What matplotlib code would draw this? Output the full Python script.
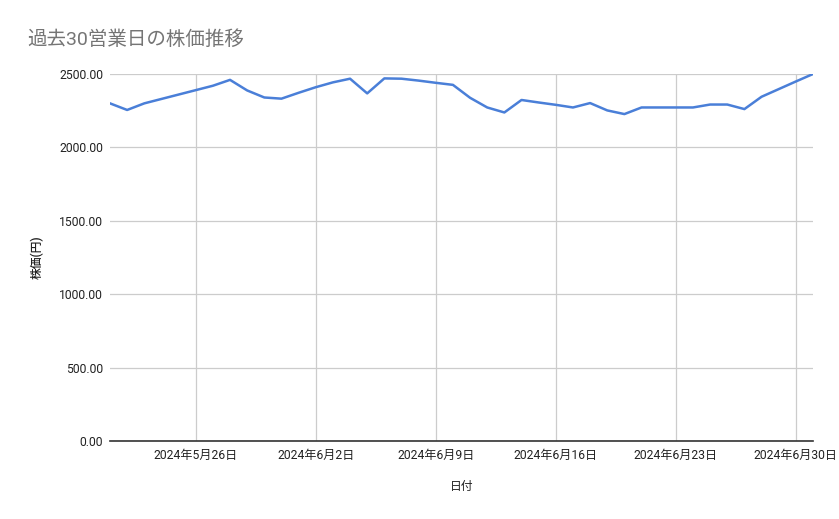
import matplotlib
matplotlib.use("Agg")
import matplotlib.pyplot as plt
import matplotlib.dates as mdates
from matplotlib.ticker import FuncFormatter
import pandas as pd

plt.rcParams['font.family'] = ['Roboto', 'Noto Sans CJK JP', 'DejaVu Sans']

# daily closing prices, 2024-05-21 .. 2024-07-01
dates = pd.date_range("2024-05-21", "2024-07-01", freq="D")
prices = [2300, 2255, 2300, 2330, 2360, 2390, 2420, 2460, 2388, 2340,
          2332, 2372, 2410, 2443, 2468, 2368, 2470, 2468, 2455, 2440,
          2426, 2338, 2272, 2238, 2323, 2306, 2290, 2272, 2302, 2252,
          2227, 2272, 2272, 2272, 2272, 2292, 2292, 2261, 2345, 2397,
          2449, 2500]
tick_dates = pd.to_datetime(["2024-05-26", "2024-06-02", "2024-06-09",
                             "2024-06-16", "2024-06-23", "2024-06-30"])
y_ticks = [0, 500, 1000, 1500, 2000, 2500]

title = "過去30営業日の株価推移"
x_label = "日付"
y_label = "株価(円)"

fig = plt.figure(figsize=(8.39, 5.19), dpi=100)
ax = fig.add_axes([110 / 839, 1 - 441 / 519, 703 / 839, 367 / 519])

ax.plot(dates, prices, color="#4a7fd8", linewidth=1.8, solid_joinstyle="round")

ax.set_xlim(dates[0], dates[-1])
ax.set_ylim(0, 2500)
ax.set_yticks(y_ticks)
ax.yaxis.set_major_formatter(FuncFormatter(lambda v, p: f"{v:.2f}"))
ax.set_xticks(tick_dates)
ax.xaxis.set_major_formatter(FuncFormatter(
    lambda v, p: "{0}年{1}月{2}日".format(*[int(s) for s in mdates.num2date(v).strftime("%Y %m %d").split()])))

ax.grid(True, color="#cccccc", linewidth=0.9)
ax.set_axisbelow(True)
for side in ["top", "right", "left"]:
    ax.spines[side].set_visible(False)
ax.spines["bottom"].set_color("#333333")
ax.spines["bottom"].set_linewidth(1.2)
ax.spines["bottom"].set_zorder(3)
ax.tick_params(length=0, labelsize=8.7, labelcolor="#222222")
ax.tick_params(axis="y", pad=5)
ax.tick_params(axis="x", pad=6)

ax.set_xlabel(x_label, fontsize=8.5, color="#222222", labelpad=13)
ax.set_ylabel(y_label, fontsize=8.5, color="#222222", labelpad=11,
              fontweight="medium")

fig.text(27 / 839, 1 - 40 / 519, title, fontsize=14, color="#757575",
         va="center", ha="left")

fig.savefig("out.png", dpi=100)
